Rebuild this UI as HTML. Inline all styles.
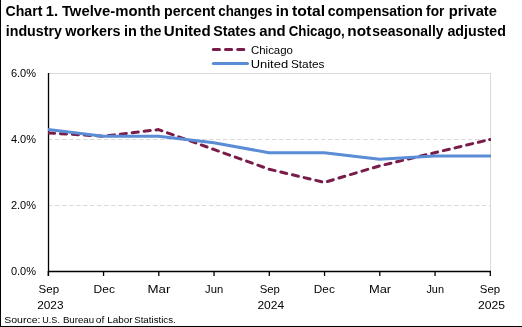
<!DOCTYPE html>
<html><head><meta charset="utf-8"><style>
html,body{margin:0;padding:0;background:#fff;overflow:hidden}
svg{display:block;will-change:transform}
text{font-family:'Liberation Sans',sans-serif;fill:#000}
</style></head><body>
<svg width="522" height="327" viewBox="0 0 522 327">
<rect x="0" y="0" width="522" height="327" fill="#fff"/>
<rect x="0" y="0" width="1" height="327" fill="#000"/>
<rect x="0" y="326" width="522" height="1" fill="#000"/>
<text transform="translate(5.51,15.8) scale(0.9757,1)" font-size="14.5" font-weight="bold">Chart</text>
<text transform="translate(45.68,15.8) scale(1.0196,1)" font-size="14.5" font-weight="bold">1.</text>
<text transform="translate(61.89,15.8) scale(1.0252,1)" font-size="14.5" font-weight="bold">Twelve-month</text>
<text transform="translate(164.02,15.8) scale(0.9805,1)" font-size="14.5" font-weight="bold">percent</text>
<text transform="translate(218.35,15.8) scale(0.9184,1)" font-size="14.5" font-weight="bold">changes</text>
<text transform="translate(275.67,15.8) scale(1.0273,1)" font-size="14.5" font-weight="bold">in</text>
<text transform="translate(292.08,15.8) scale(1.0816,1)" font-size="14.5" font-weight="bold">total</text>
<text transform="translate(327.82,15.8) scale(0.9669,1)" font-size="14.5" font-weight="bold">compensation</text>
<text transform="translate(426.11,15.8) scale(0.9418,1)" font-size="14.5" font-weight="bold">for</text>
<text transform="translate(448.68,15.8) scale(1.0152,1)" font-size="14.5" font-weight="bold">private</text>
<text transform="translate(5.72,35.6) scale(0.9840,1)" font-size="14.5" font-weight="bold">industry</text>
<text transform="translate(65.20,35.6) scale(0.9964,1)" font-size="14.5" font-weight="bold">workers</text>
<text transform="translate(123.90,35.6) scale(1.0000,1)" font-size="14.5" font-weight="bold">in</text>
<text transform="translate(140.00,35.6) scale(0.9905,1)" font-size="14.5" font-weight="bold">the</text>
<text transform="translate(163.76,35.6) scale(1.0417,1)" font-size="14.5" font-weight="bold">United</text>
<text transform="translate(213.21,35.6) scale(0.9812,1)" font-size="14.5" font-weight="bold">States</text>
<text transform="translate(259.19,35.6) scale(1.0287,1)" font-size="14.5" font-weight="bold">and</text>
<text transform="translate(288.65,35.6) scale(0.9179,1)" font-size="14.5" font-weight="bold">Chicago,</text>
<text transform="translate(347.24,35.6) scale(1.0607,1)" font-size="14.5" font-weight="bold">not</text>
<text transform="translate(372.32,35.6) scale(0.9619,1)" font-size="14.5" font-weight="bold">seasonally</text>
<text transform="translate(447.41,35.6) scale(0.9811,1)" font-size="14.5" font-weight="bold">adjusted</text>
<line x1="48" y1="73.5" x2="490.5" y2="73.5" stroke="#d9d9d9" stroke-width="1"/>
<line x1="490.5" y1="73" x2="490.5" y2="271" stroke="#d9d9d9" stroke-width="1"/>
<line x1="48" y1="205.5" x2="490" y2="205.5" stroke="#d9d9d9" stroke-width="1" stroke-dasharray="4.5 2.5"/>
<line x1="48" y1="139.5" x2="490" y2="139.5" stroke="#d9d9d9" stroke-width="1" stroke-dasharray="4.5 2.5"/>
<line x1="48.5" y1="73" x2="48.5" y2="276" stroke="#000" stroke-width="1.3"/>
<line x1="48" y1="271.5" x2="491" y2="271.5" stroke="#000" stroke-width="1.3"/>
<line x1="48.30" y1="271" x2="48.30" y2="276" stroke="#000" stroke-width="1.3"/>
<line x1="103.55" y1="271" x2="103.55" y2="276" stroke="#000" stroke-width="1.3"/>
<line x1="158.80" y1="271" x2="158.80" y2="276" stroke="#000" stroke-width="1.3"/>
<line x1="214.05" y1="271" x2="214.05" y2="276" stroke="#000" stroke-width="1.3"/>
<line x1="269.30" y1="271" x2="269.30" y2="276" stroke="#000" stroke-width="1.3"/>
<line x1="324.55" y1="271" x2="324.55" y2="276" stroke="#000" stroke-width="1.3"/>
<line x1="379.80" y1="271" x2="379.80" y2="276" stroke="#000" stroke-width="1.3"/>
<line x1="435.05" y1="271" x2="435.05" y2="276" stroke="#000" stroke-width="1.3"/>
<line x1="490.30" y1="271" x2="490.30" y2="276" stroke="#000" stroke-width="1.3"/>
<text x="36" y="275.0" font-size="11" text-anchor="end">0.0%</text>
<text x="36" y="209.0" font-size="11" text-anchor="end">2.0%</text>
<text x="36" y="143.0" font-size="11" text-anchor="end">4.0%</text>
<text x="36" y="77.0" font-size="11" text-anchor="end">6.0%</text>
<text transform="translate(38.58,292.5) scale(1.0484,1)" font-size="11">Sep</text>
<text transform="translate(93.62,292.5) scale(1.0874,1)" font-size="11">Dec</text>
<text transform="translate(147.51,292.5) scale(1.2067,1)" font-size="11">Mar</text>
<text transform="translate(205.00,292.5) scale(1.0238,1)" font-size="11">Jun</text>
<text transform="translate(259.68,292.5) scale(1.0323,1)" font-size="11">Sep</text>
<text transform="translate(313.83,292.5) scale(1.0765,1)" font-size="11">Dec</text>
<text transform="translate(368.94,292.5) scale(1.1732,1)" font-size="11">Mar</text>
<text transform="translate(426.40,292.5) scale(0.9940,1)" font-size="11">Jun</text>
<text transform="translate(479.78,292.5) scale(1.0430,1)" font-size="11">Sep</text>
<text transform="translate(37.15,309) scale(1.0769,1)" font-size="11">2023</text>
<text transform="translate(257.44,309) scale(1.0936,1)" font-size="11">2024</text>
<text transform="translate(477.94,309) scale(1.1068,1)" font-size="11">2025</text>
<clipPath id="pc"><rect x="48" y="60" width="443" height="212"/></clipPath>
<polyline clip-path="url(#pc)" points="48.00,132.90 103.25,136.20 158.50,129.60 213.75,149.40 269.00,169.20 324.25,182.40 379.50,165.90 434.75,152.70 490.00,139.50" fill="none" stroke="#781c4a" stroke-width="3" stroke-dasharray="6.1 5.9" stroke-dashoffset="-0.5" stroke-linecap="round" stroke-linejoin="round"/>
<polyline clip-path="url(#pc)" points="48.00,129.60 103.25,136.20 158.50,136.20 213.75,142.80 269.00,152.70 324.25,152.70 379.50,159.30 434.75,156.00 490.00,156.00" fill="none" stroke="#5a8dd6" stroke-width="3" stroke-linecap="round" stroke-linejoin="round"/>
<line clip-path="url(#pc)" x1="489.6" y1="139.50" x2="490" y2="139.50" stroke="#781c4a" stroke-width="3" stroke-linecap="round"/>
<line x1="213.3" y1="49.5" x2="247.5" y2="49.5" stroke="#781c4a" stroke-width="3" stroke-dasharray="6.15 6.05" stroke-linecap="round"/>
<line x1="213.3" y1="63.5" x2="247.5" y2="63.5" stroke="#5a8dd6" stroke-width="3" stroke-linecap="round"/>
<text transform="translate(250.98,53.7) scale(1.0407,1)" font-size="11">Chicago</text>
<text transform="translate(250.66,67.7) scale(1.1782,1)" font-size="11">United</text>
<text transform="translate(290.96,67.7) scale(1.0759,1)" font-size="11">States</text>
<text transform="translate(4.15,322.7) scale(1.0978,1)" font-size="9.6">Source:</text>
<text transform="translate(42.34,322.7) scale(0.9415,1)" font-size="9.6">U.S.</text>
<text transform="translate(62.89,322.7) scale(1.0102,1)" font-size="9.6">Bureau</text>
<text transform="translate(95.77,322.7) scale(1.0658,1)" font-size="9.6">of</text>
<text transform="translate(107.17,322.7) scale(1.0339,1)" font-size="9.6">Labor</text>
<text transform="translate(134.19,322.7) scale(1.0126,1)" font-size="9.6">Statistics.</text>
</svg></body></html>
